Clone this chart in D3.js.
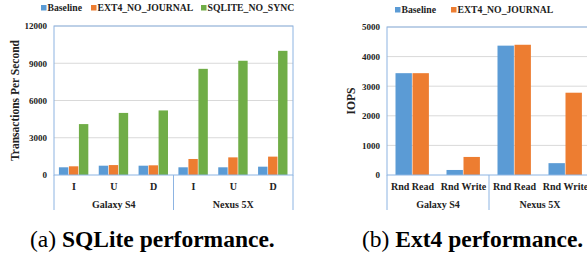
<!DOCTYPE html>
<html>
<head>
<meta charset="utf-8">
<script src="https://cdn.jsdelivr.net/npm/d3@7"></script>
<style>
  body { margin: 0; background: #fff; }
  svg text { font-family: "Liberation Serif", "Times New Roman", "DejaVu Serif", serif !important; }
</style>
</head>
<body>
<svg id="chart" width="587" height="258"></svg>
<script>
// ---- data (a) SQLite
var sqlDevices = ["Galaxy S4", "Nexus 5X"];
var sqlOps = ["I", "U", "D"];
var sqlSeries = ["Baseline", "EXT4_NO_JOURNAL", "SQLITE_NO_SYNC"];
var sqlBaseline = [620, 750, 750, 620, 620, 670];
var sqlExt4 = [700, 800, 780, 1290, 1420, 1480];
var sqlNoSync = [4100, 5000, 5200, 8550, 9200, 10000];
var sqlTicks = [0, 3000, 6000, 9000, 12000];

// ---- data (b) Ext4
var extDevices = ["Galaxy S4", "Nexus 5X"];
var extOps = ["Rnd Read", "Rnd Write"];
var extSeries = ["Baseline", "EXT4_NO_JOURNAL"];
var extBaseline = [3440, 170, 4370, 400];
var extExt4 = [3440, 610, 4400, 2780];
var extTicks = [0, 1000, 2000, 3000, 4000, 5000];

var colors = {"Baseline": "#5b9bd5", "EXT4_NO_JOURNAL": "#ed7d31", "SQLITE_NO_SYNC": "#70ad47"};
var borderColor = "#8db4e2";
var gridColor = "#d9d9d9";
var serif = "'Liberation Serif', 'Times New Roman', serif";

var svg = d3.select("#chart");

function drawPanel(opt) {
  var g = svg.append("g");
  var cats = [];
  opt.devices.forEach(function(dev) {
    opt.ops.forEach(function(op) { cats.push(dev + "|" + op); });
  });
  var rows = cats.map(function(c, i) {
    var r = {cat: c};
    opt.series.forEach(function(s, j) { r[s] = opt.values[j][i]; });
    return r;
  });

  var x = d3.scaleBand().domain(cats).range([opt.left, opt.right]);
  var xs = d3.scaleBand().domain(opt.series)
      .range([0, opt.barW * opt.series.length]);
  var y = d3.scaleLinear().domain([0, d3.max(opt.ticks)]).range([opt.bottom, opt.top]);

  // gridlines
  g.append("g").selectAll("line")
    .data(opt.ticks.filter(function(t) { return t > 0; }))
    .enter().append("line")
      .attr("x1", opt.left).attr("x2", opt.right)
      .attr("y1", function(d) { return y(d); })
      .attr("y2", function(d) { return y(d); })
      .attr("stroke", gridColor).attr("stroke-width", 1);

  // y axis labels
  var yAxis = d3.axisLeft(y).tickValues(opt.ticks).tickSize(0).tickPadding(7)
    .tickFormat(d3.format("d"));
  var ya = g.append("g").attr("transform", "translate(" + opt.left + ",0)").call(yAxis)
    .attr("font-family", serif);
  ya.select(".domain").remove();
  ya.selectAll("text")
    .attr("font-weight", "bold").attr("font-size", 9).attr("fill", "#222");

  // bars
  var offset = (x.bandwidth() - opt.barW * opt.series.length) / 2;
  g.append("g").selectAll("g")
    .data(rows).enter().append("g")
      .attr("transform", function(d) { return "translate(" + (x(d.cat) + offset) + ",0)"; })
    .selectAll("rect")
    .data(function(d) { return opt.series.map(function(s) { return {key: s, value: d[s]}; }); })
    .enter().append("rect")
      .attr("x", function(d) { return xs(d.key); })
      .attr("width", xs.bandwidth() - 0.6)
      .attr("y", function(d) { return y(d.value); })
      .attr("height", function(d) { return y(0) - y(d.value); })
      .attr("fill", function(d) { return colors[d.key]; });

  // plot border
  g.append("rect")
    .attr("x", opt.left).attr("y", opt.top)
    .attr("width", opt.right - opt.left).attr("height", opt.bottom - opt.top)
    .attr("fill", "none").attr("stroke", borderColor).attr("stroke-width", 1);

  // multilevel category axis
  var xAxis = d3.axisBottom(x).tickSize(0).tickPadding(8)
    .tickFormat(function(d) { return d.split("|")[1]; });
  var xa = g.append("g").attr("transform", "translate(0," + opt.bottom + ")").call(xAxis)
    .attr("font-family", serif);
  xa.select(".domain").remove();
  xa.selectAll("text")
    .attr("font-weight", "bold").attr("font-size", 10).attr("fill", "#222");

  var n = opt.ops.length;
  var seps = [opt.left];
  opt.devices.forEach(function(dev, i) { seps.push(x(cats[(i + 1) * n - 1]) + x.bandwidth()); });
  g.append("g").selectAll("line").data(seps).enter().append("line")
    .attr("x1", function(d) { return d; }).attr("x2", function(d) { return d; })
    .attr("y1", opt.bottom).attr("y2", opt.bottom + 35)
    .attr("stroke", borderColor).attr("stroke-width", 1);

  g.append("g").selectAll("text").data(opt.devices).enter().append("text")
    .attr("x", function(d, i) { return (seps[i] + seps[i + 1]) / 2; })
    .attr("y", opt.bottom + 33)
    .attr("text-anchor", "middle")
    .attr("font-weight", "bold").attr("font-size", 10).attr("fill", "#222")
    .text(function(d) { return d; });

  // y title
  g.append("text")
    .attr("transform", "translate(" + opt.titleX + "," + ((opt.top + opt.bottom) / 2) + ") rotate(-90)")
    .attr("text-anchor", "middle")
    .attr("font-weight", "bold").attr("font-size", opt.titleSize).attr("fill", "#222")
    .text(opt.yTitle);

  // legend
  var lg = g.append("g").attr("transform", "translate(0," + opt.legendY + ")");
  var items = lg.selectAll("g").data(opt.series).enter().append("g")
    .attr("transform", function(d, i) { return "translate(" + opt.legendX[i] + ",0)"; });
  items.append("rect").attr("x", 0).attr("y", -6).attr("width", 5.5).attr("height", 5.5)
    .attr("fill", function(d) { return colors[d]; });
  items.append("text").attr("x", 6.5).attr("y", 0)
    .attr("font-weight", "bold").attr("font-size", 9.7).attr("fill", "#222")
    .text(function(d) { return d; });

  // caption
  var cap = g.append("text").attr("x", opt.capX).attr("y", 247)
    .attr("font-size", 23.5).attr("fill", "#000");
  cap.append("tspan").text(opt.capPrefix + " ");
  cap.append("tspan").attr("font-weight", "bold").text(opt.caption);
}

drawPanel({
  devices: sqlDevices, ops: sqlOps, series: sqlSeries,
  values: [sqlBaseline, sqlExt4, sqlNoSync], ticks: sqlTicks,
  left: 54, right: 293, top: 26, bottom: 175, barW: 10,
  yTitle: "Transactions Per Second", titleX: 19, titleSize: 11.5,
  legendX: [41, 91, 201], legendY: 11,
  capX: 30, capPrefix: "(a)", caption: "SQLite performance."
});

drawPanel({
  devices: extDevices, ops: extOps, series: extSeries,
  values: [extBaseline, extExt4], ticks: extTicks,
  left: 387, right: 591, top: 27, bottom: 175, barW: 17,
  yTitle: "IOPS", titleX: 355, titleSize: 11.5,
  legendX: [395, 451], legendY: 13,
  capX: 362, capPrefix: "(b)", caption: "Ext4 performance."
});
</script>
</body>
</html>
